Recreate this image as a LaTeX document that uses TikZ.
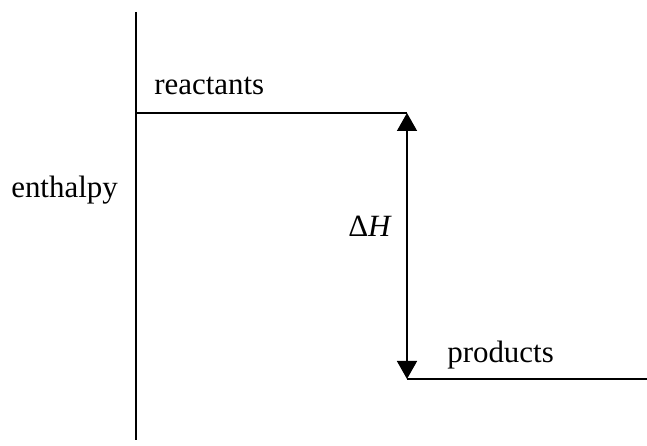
\documentclass[tikz,border=0pt]{standalone}
\usepackage{fontspec}
\setmainfont{Liberation Serif}
\usetikzlibrary{arrows.meta}

\begin{document}
\begin{tikzpicture}
    \useasboundingbox (0,0) rectangle (16.175,11.15);
    \tikzset{level/.style={line width=1.5pt},
             label/.style={anchor=base west, inner sep=0pt, font=\fontsize{22}{26}\selectfont}}

    % Enthalpy axis
    \coordinate (axistop) at (3.4,10.85);
    \coordinate (axisbot) at (3.4,0.15);
    \draw[level] (axistop) -- (axisbot);
    \node[label] (enthalpy) at (0.275,6.2) {enthalpy};

    % Reactants level
    \coordinate (react) at (3.4,8.325);
    \coordinate (reactend) at (10.175,8.325);
    \draw[level] (react) -- (reactend);
    \node[label] (reactants) at (3.85,8.775) {reactants};

    % Products level
    \coordinate (prodstart) at (10.175,1.675);
    \coordinate (prodend) at (16.175,1.675);
    \draw[level] (prodstart) -- (prodend);
    \node[label] (products) at (11.175,2.075) {products};

    % Enthalpy change
    \draw[line width=1.1pt, {Triangle[width=0.5cm,length=0.45cm]}-{Triangle[width=0.5cm,length=0.45cm]}] (reactend) -- (prodstart);
    \node[label] (dH) at (8.7,5.225) {Δ\textit{H}};

\end{tikzpicture}
\end{document}
